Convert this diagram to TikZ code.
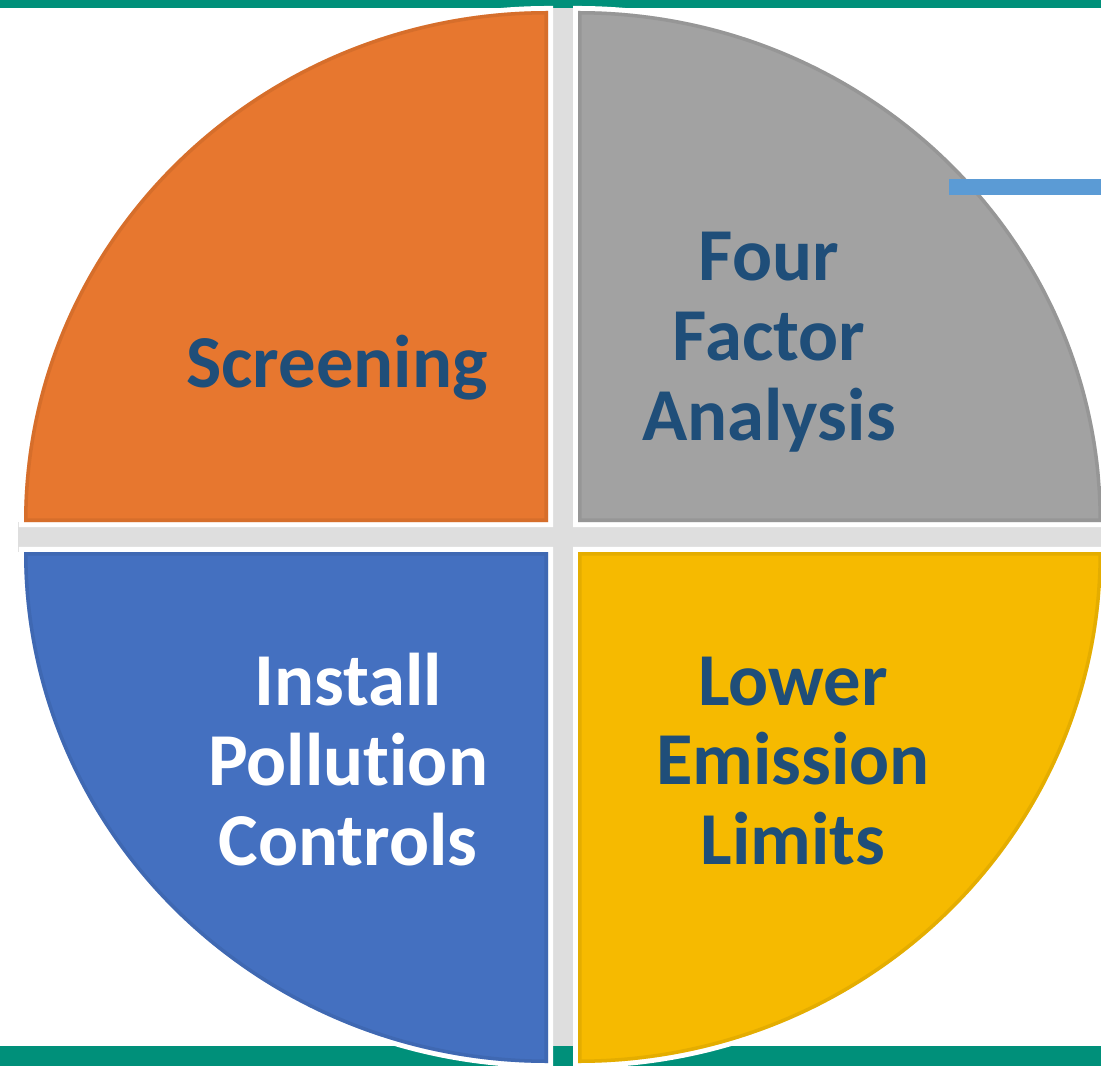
\documentclass[tikz,border=0pt]{standalone}
\usepackage{fontspec}
\setmainfont{Carlito}[Ligatures=NoCommon]
\definecolor{qorange}{HTML}{E7772F}
\definecolor{qgray}{HTML}{A2A2A2}
\definecolor{qblue}{HTML}{4470C0}
\definecolor{qyellow}{HTML}{F6BA00}
\definecolor{textblue}{HTML}{1F4E79}
\definecolor{bargreen}{HTML}{00907A}
\definecolor{linkblue}{HTML}{5B9BD5}
\definecolor{gapgray}{HTML}{DEDEDE}
\tikzset{
  quadtext/.style={font=\fontsize{42.5}{45.5}\selectfont\bfseries,align=center,text=textblue},
  rim/.style={draw=white,line width=5.7pt}
}
\newcommand\quadpath[3]{(#1) -- ++(#2:524 and 511) arc[start angle=#2,end angle=#3,x radius=524,y radius=511] -- cycle}
\begin{document}
\begin{tikzpicture}[x=0.02cm,y=0.02cm]
\useasboundingbox (0,0) rectangle (1101,1066);
\coordinate (O) at (563,529);
\coordinate (NW) at (548,544);
\coordinate (NE) at (578,544);
\coordinate (SW) at (548,514);
\coordinate (SE) at (578,514);
\begin{scope}
  \clip (O) ellipse[x radius=545,y radius=530];
  \fill[gapgray] (548,0) rectangle (578,1066);
  \fill[gapgray] (0,514) rectangle (1101,544);
\end{scope}
\fill[bargreen] (0,1058) rectangle (1101,1066);
\fill[bargreen] (0,0) rectangle (1101,20);
\foreach \corner/\from/\to/\col in {NW/180/90/qorange,NE/0/90/qgray,SW/180/270/qblue,SE/0/-90/qyellow}{
  \draw[rim] \quadpath{\corner}{\from}{\to};
  \fill[\col] \quadpath{\corner}{\from}{\to};
  \begin{scope}
    \clip \quadpath{\corner}{\from}{\to};
    \draw[\col!80!black,line width=4pt,opacity=0.35] \quadpath{\corner}{\from}{\to};
  \end{scope}
}
\node[quadtext] (screening) at (337,698) {Screening};
\node[quadtext] (fourfactor) at (769,724) {Four\\Factor\\Analysis};
\node[quadtext,text=white] (install) at (348,306) {Install\\Pollution\\Controls};
\node[quadtext] (lower) at (793,305) {Lower\\Emission\\Limits};
\coordinate (linkstart) at (949,879);
\coordinate (linkend) at (1101,879);
\draw[linkblue,line width=9pt] (linkstart) -- (linkend);
\end{tikzpicture}
\end{document}
